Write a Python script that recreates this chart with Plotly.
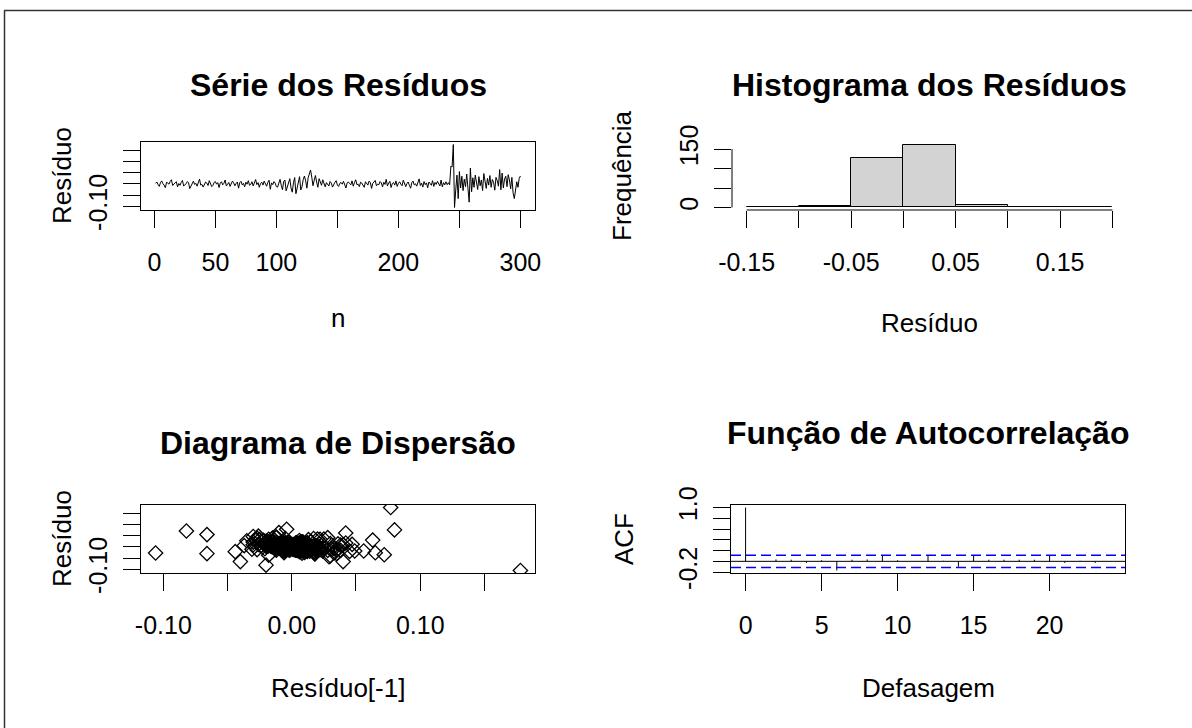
import numpy as np
import plotly.graph_objects as go

# ---------------- data ----------------
residuos = [
    0.003, 0.009, -0.002, -0.011, 0.006, 0.014, 0.001, -0.005, -0.017, 0.008,
    0.004, -0.001, 0.012, 0.019, -0.007, -0.003, 0.005, 0.010, -0.013, 0.002,
    -0.006, 0.007, 0.016, -0.009, -0.004, 0.001, 0.011, 0.006, -0.021, -0.008,
    0.005, 0.013, -0.002, 0.003, -0.010, 0.008, 0.022, -0.005, -0.002, -0.014,
    -0.003, 0.009, 0.004, -0.007, 0.015, 0.002, -0.012, -0.006, 0.007, 0.011,
    -0.001, 0.006, -0.016, 0.004, 0.010, -0.004, 0.003, 0.018, -0.009, -0.001,
    0.007, -0.011, -0.002, 0.013, 0.005, -0.008, 0.002, 0.009, -0.019, 0.006,
    0.012, -0.004, 0.003, -0.013, 0.008, -0.001, 0.015, -0.006, -0.002, 0.010,
    -0.009, 0.004, 0.020, -0.003, 0.006, -0.015, 0.002, 0.008, -0.005, 0.013,
    0.001, -0.010, 0.007, 0.017, -0.024, 0.005, -0.003, 0.011, 0.004, -0.012,
    -0.014, 0.009, 0.021, -0.006, -0.026, 0.012, 0.018, -0.031, -0.010, 0.015,
    0.024, -0.018, -0.037, 0.006, 0.029, -0.044, -0.021, 0.013, 0.033, -0.027,
    -0.012, 0.020, 0.036, 0.014, -0.019, 0.028, 0.042, 0.063, 0.031, -0.008,
    0.017, 0.038, 0.009, -0.015, 0.024, 0.011, -0.006, 0.019, 0.003, -0.013,
    0.006, -0.002, -0.009, 0.011, 0.004, -0.014, 0.001, 0.008, 0.015, -0.005,
    -0.011, 0.003, 0.007, -0.001, 0.012, -0.007, -0.018, 0.005, 0.009, 0.002,
    -0.004, 0.014, -0.010, 0.006, 0.019, -0.003, -0.001, -0.012, 0.008, 0.004,
    -0.007, -0.015, 0.010, 0.002, -0.005, 0.013, 0.007, -0.020, 0.003, 0.009,
    0.016, -0.008, -0.001, -0.003, 0.011, 0.005, -0.013, 0.008, -0.002, 0.021,
    -0.009, 0.004, 0.012, -0.016, 0.002, 0.007, -0.005, 0.014, -0.011, 0.003,
    0.010, -0.001, -0.008, 0.017, 0.005, -0.012, 0.002, 0.009, -0.006, -0.019,
    0.006, 0.013, -0.004, 0.001, -0.010, 0.008, 0.023, -0.007, 0.004, -0.014,
    0.011, -0.003, 0.005, -0.017, 0.009, 0.002, -0.006, 0.015, -0.011, 0.007,
    -0.002, 0.012, 0.004, -0.009, 0.018, -0.013, 0.006, -0.004, 0.010, -0.003,
    0.006, -0.004, 0.080, 0.077, 0.178, -0.106, -0.027, 0.040, -0.066, 0.056,
    -0.018, 0.035, -0.030, 0.022, -0.012, 0.045, -0.020, -0.082, 0.072, -0.035,
    0.028, -0.015, 0.040, 0.010, -0.025, 0.033, -0.008, 0.018, -0.030, 0.047,
    0.012, -0.020, 0.025, -0.005, 0.038, -0.015, 0.020, 0.008, -0.028, 0.030,
    0.015, -0.010, 0.065, -0.026, 0.049, -0.018, 0.022, 0.035, -0.012, 0.042,
    0.018, -0.022, 0.030, -0.040, -0.066, -0.030, 0.010, -0.015, 0.025, 0.036,
]

hist_breaks = [-0.15, -0.10, -0.05, 0.00, 0.05, 0.10, 0.15, 0.20]

acf_valores = [1.0, 0.005, 0.035, 0.03, -0.03, 0.02, -0.17, 0.03, 0.035, 0.10,
               0.02, 0.005, 0.10, 0.01, -0.10, 0.10, 0.03, 0.03, 0.03, 0.03,
               0.10, -0.03, 0.01, -0.03, 0.005]

serie_xticks = [0, 50, 100, 150, 200, 250, 300]
serie_xlabels = ["0", "50", "100", "", "200", "", "300"]
res_ticks = [-0.10, -0.05, 0.00, 0.05, 0.10, 0.15]
res_ylabels = ["-0.10", "", "", "", "", ""]
res_xlabels = ["-0.10", "", "0.00", "", "0.10", ""]
hist_xlabels = ["-0.15", "", "-0.05", "", "0.05", "", "0.15", ""]
hist_yticks = [0, 50, 100, 150]
hist_ylabels = ["0", "", "", "150"]
acf_xticks = [0, 5, 10, 15, 20]
acf_yticks = [-0.2, 0.0, 0.2, 0.4, 0.6, 0.8, 1.0]
acf_ylabels = ["-0.2", "", "", "", "", "", "1.0"]

# ---------------- derived ----------------
W, H = 1192, 728
r = np.array(residuos)
n = np.arange(1, len(r) + 1)
counts, _ = np.histogram(r, bins=hist_breaks)
centers = [(hist_breaks[i] + hist_breaks[i + 1]) / 2 for i in range(len(hist_breaks) - 1)]
bw = hist_breaks[1] - hist_breaks[0]
lag_x = r[:-1]
lag_y = r[1:]
lags = np.arange(len(acf_valores))
clim = 1.96 / np.sqrt(len(r))


def rng(lo, hi):
    d = hi - lo
    return [lo - 0.04 * d, hi + 0.04 * d]


def dx(a, b):
    return [a / W, b / W]


def dy(top, bottom):
    return [1 - bottom / H, 1 - top / H]


FONT = "Liberation Sans, Arial, sans-serif"
TICKF = dict(family=FONT, size=25, color="black")

fig = go.Figure()

# series
fig.add_trace(go.Scatter(x=n, y=r, mode="lines", line=dict(color="black", width=1),
                         xaxis="x", yaxis="y", showlegend=False, hoverinfo="skip"))
# histogram
fig.add_trace(go.Bar(x=centers, y=counts, width=bw, marker=dict(color="#D3D3D3",
                     line=dict(color="black", width=1)), xaxis="x2", yaxis="y2",
                     showlegend=False, hoverinfo="skip"))
# scatter
fig.add_trace(go.Scatter(x=lag_x, y=lag_y, mode="markers",
                         marker=dict(symbol="diamond-open", size=11, color="black",
                                     line=dict(color="black", width=1.3)),
                         xaxis="x3", yaxis="y3", showlegend=False, hoverinfo="skip"))
# acf spikes
ax, ay = [], []
for k, v in zip(lags, acf_valores):
    ax += [k, k, None]
    ay += [0, v, None]
fig.add_trace(go.Scatter(x=ax, y=ay, mode="lines", line=dict(color="black", width=1),
                         xaxis="x4", yaxis="y4", showlegend=False, hoverinfo="skip"))

common = dict(ticks="outside", ticklen=17, tickwidth=1, tickcolor="black",
              tickfont=TICKF, showgrid=False, zeroline=False, automargin=False)
boxed = dict(showline=True, linecolor="black", linewidth=1, mirror=True)

fig.update_layout(
    template="none",
    width=W, height=H, margin=dict(l=0, r=0, t=0, b=0, pad=0), autosize=False,
    paper_bgcolor="white", plot_bgcolor="white", bargap=0, showlegend=False,
    xaxis=dict(domain=dx(141, 535), range=rng(1, len(r)), tickvals=serie_xticks,
               ticktext=serie_xlabels, anchor="y", ticklabelstandoff=13, **common, **boxed),
    yaxis=dict(domain=dy(142, 210), range=rng(r.min(), r.max()), tickvals=res_ticks,
               ticktext=res_ylabels, tickangle=-90, anchor="x", ticklabelstandoff=6,
               **common, **boxed),
    xaxis2=dict(domain=dx(732, 1127), range=rng(hist_breaks[0], hist_breaks[-1]),
                tickvals=hist_breaks, ticktext=hist_xlabels, anchor="y2", showline=False,
                ticklabelstandoff=13, **common),
    yaxis2=dict(domain=dy(142, 210), range=rng(0, counts.max()), tickvals=hist_yticks,
                ticktext=hist_ylabels, tickangle=-90, anchor="x2", showline=False,
                ticklabelstandoff=6, **common),
    xaxis3=dict(domain=dx(141, 535), range=rng(lag_x.min(), lag_x.max()), tickvals=res_ticks,
                ticktext=res_xlabels, anchor="y3", ticklabelstandoff=13, **common, **boxed),
    yaxis3=dict(domain=dy(505, 573), range=rng(lag_y.min(), lag_y.max()), tickvals=res_ticks,
                ticktext=res_ylabels, tickangle=-90, anchor="x3", ticklabelstandoff=6,
                **common, **boxed),
    xaxis4=dict(domain=dx(731, 1125), range=rng(0, lags.max()), tickvals=acf_xticks,
                anchor="y4", ticklabelstandoff=13, **common, **boxed),
    yaxis4=dict(domain=dy(505, 573), range=rng(min(min(acf_valores), -clim), 1.0),
                tickvals=acf_yticks, ticktext=acf_ylabels, tickangle=-90, anchor="x4",
                ticklabelstandoff=6, **common, **boxed),
)

shapes = []
# histogram axis lines (span first..last tick)
shapes.append(dict(type="line", xref="x2", yref="y2 domain", x0=hist_breaks[0], x1=hist_breaks[-1],
                   y0=0, y1=0, line=dict(color="black", width=1)))
shapes.append(dict(type="line", xref="x2 domain", yref="y2", x0=0, x1=0, y0=hist_yticks[0],
                   y1=hist_yticks[-1], line=dict(color="black", width=1)))
# acf reference lines
shapes.append(dict(type="line", xref="x4 domain", yref="y4", x0=0, x1=1, y0=0, y1=0,
                   line=dict(color="black", width=1)))
for c in (clim, -clim):
    shapes.append(dict(type="line", xref="x4 domain", yref="y4", x0=0, x1=1, y0=c, y1=c,
                       line=dict(color="#0000FF", width=1.5, dash="10px,5px")))
# outer frame
shapes.append(dict(type="line", xref="paper", yref="paper", x0=4 / W, x1=1, y0=1 - 10.5 / H,
                   y1=1 - 10.5 / H, line=dict(color="#333333", width=1.5)))
shapes.append(dict(type="line", xref="paper", yref="paper", x0=4.5 / W, x1=4.5 / W, y0=0,
                   y1=1 - 10.5 / H, line=dict(color="#333333", width=1.5)))
fig.update_layout(shapes=shapes)

ann = []


def txt(s, x, y, size=26, bold=False, angle=0):
    ann.append(dict(text=f"<b>{s}</b>" if bold else s, x=x / W, y=1 - y / H, xref="paper",
                    yref="paper", showarrow=False, xanchor="center", yanchor="middle",
                    textangle=angle, font=dict(family=FONT, size=size, color="black")))


txt("Série dos Resíduos", 338, 85, 32, True)
txt("Histograma dos Resíduos", 929, 85, 32, True)
txt("Diagrama de Dispersão", 338, 443, 32, True)
txt("Função de Autocorrelação", 928, 433, 32, True)
txt("n", 338, 318)
txt("Resíduo", 929, 323)
txt("Resíduo[-1]", 338, 688)
txt("Defasagem", 928, 688)
txt("Resíduo", 62, 176, angle=-90)
txt("Frequência", 622, 176, angle=-90)
txt("Resíduo", 62, 539, angle=-90)
txt("ACF", 624, 539, angle=-90)
fig.update_layout(annotations=ann)

fig.write_html("out.html", config={"displayModeBar": False})
